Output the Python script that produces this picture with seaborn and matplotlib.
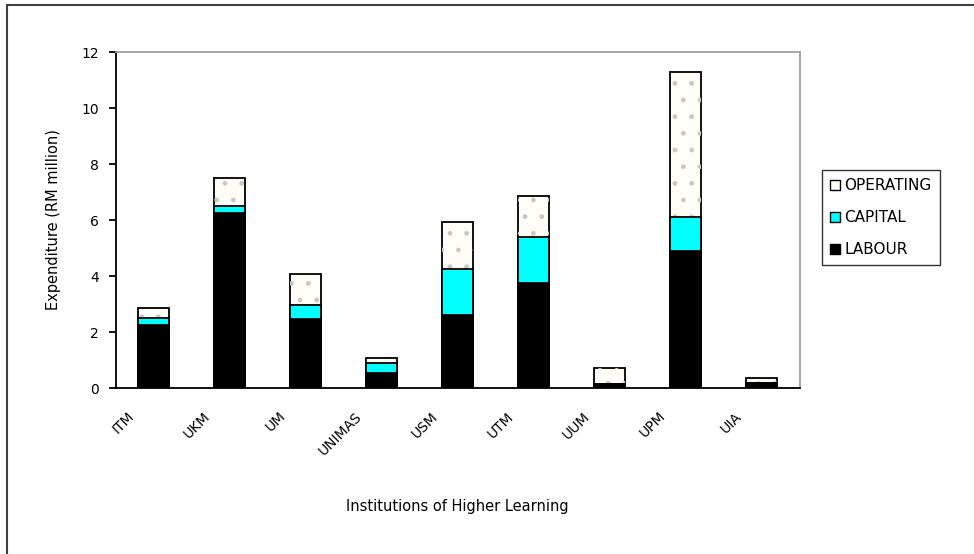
import numpy as np
import pandas as pd
import seaborn as sns
import matplotlib.pyplot as plt
from matplotlib.patches import Patch
from matplotlib.lines import Line2D
import matplotlib.transforms as mtransforms

# values (RM million)
institutions = ['ITM', 'UKM', 'UM', 'UNIMAS', 'USM', 'UTM', 'UUM', 'UPM', 'UIA']
labour = [2.25, 6.26, 2.46, 0.52, 2.60, 3.74, 0.14, 4.89, 0.17]
capital = [0.25, 0.25, 0.50, 0.38, 1.66, 1.66, 0.00, 1.23, 0.00]
operating = [0.37, 1.00, 1.10, 0.16, 1.66, 1.46, 0.56, 5.15, 0.18]

df = pd.DataFrame({'inst': institutions, 'LABOUR': labour,
                   'CAPITAL': capital, 'OPERATING': operating})
df['lab_cap'] = df['LABOUR'] + df['CAPITAL']
df['total'] = df['lab_cap'] + df['OPERATING']

sns.set_style('white')
plt.rcParams['font.family'] = ['DejaVu Sans']
plt.rcParams['hatch.linewidth'] = 1.0
for k in ['text.color', 'axes.labelcolor', 'xtick.color', 'ytick.color']:
    plt.rcParams[k] = 'black'

fig = plt.figure(figsize=(9.74, 5.54), dpi=100)
ax = fig.add_axes([0.119, 0.2996, 0.702, 0.6065])

ivory = '#fffdf5'
cyan = '#00ffff'
w = 0.41
# stacked bars drawn as overlaid cumulative layers
sns.barplot(data=df, x='inst', y='total', color=ivory, width=w,
            edgecolor='black', linewidth=1.3, saturation=1, ax=ax)
sns.barplot(data=df, x='inst', y='total', color=ivory, width=w,
            fill=False, linewidth=0, saturation=1, ax=ax)
for p in ax.patches[len(institutions):]:
    p.set_hatch('.')
    p.set_edgecolor('#c8c8c8')
    p.set_linewidth(0)
sns.barplot(data=df, x='inst', y='lab_cap', color=cyan, width=w,
            edgecolor='black', linewidth=1.3, saturation=1, ax=ax)
sns.barplot(data=df, x='inst', y='LABOUR', color='black', width=w,
            edgecolor='black', linewidth=1.3, saturation=1, ax=ax)

ax.set_ylim(0, 12)
ax.set_xlim(-0.5, len(institutions) - 0.5)
ax.set_yticks(range(0, 13, 2))
ax.tick_params(axis='y', direction='out', length=5, width=1.3,
               labelsize=10, pad=7, left=True)
ax.set_xticks(range(len(institutions)))
ax.set_xticklabels(institutions, rotation=45, ha='right', va='center',
                   rotation_mode='anchor', fontsize=10)
ax.tick_params(axis='x', length=0, pad=0)
ax.set_xticks(np.arange(0.5, len(institutions) - 0.5, 1), minor=True)
ax.tick_params(axis='x', which='minor', direction='in', length=5, width=1.3)
shift = mtransforms.ScaledTranslation(-22 / 100, -26 / 100, fig.dpi_scale_trans)
for lbl in ax.get_xticklabels():
    lbl.set_transform(lbl.get_transform() + shift)

for side in ['left', 'bottom']:
    ax.spines[side].set_color('black')
    ax.spines[side].set_linewidth(1.3)
for side in ['top', 'right']:
    ax.spines[side].set_color('#a0a0a0')
    ax.spines[side].set_linewidth(1.3)

ax.set_ylabel('Expenditure (RM million)', fontsize=10.5)
ax.yaxis.set_label_coords(-0.08, 0.5)
ax.set_xlabel('Institutions of Higher Learning', fontsize=10.5, va='center')
ax.xaxis.set_label_coords(0.5, -0.354)

handles = [Patch(facecolor=ivory, edgecolor='black', label='OPERATING'),
           Patch(facecolor=cyan, edgecolor='black', label='CAPITAL'),
           Patch(facecolor='black', edgecolor='black', label='LABOUR')]
leg = fig.legend(handles=handles, loc='upper left', bbox_to_anchor=(0.844, 0.693),
                 fontsize=11, frameon=True, fancybox=False, borderpad=0.55,
                 handlelength=0.6, handleheight=0.6, handletextpad=0.3,
                 labelspacing=1.1, borderaxespad=0)
leg.get_frame().set_edgecolor('black')
leg.get_frame().set_linewidth(1.0)

# outer chart frame (left and top edges visible)
fig.add_artist(Line2D([0.0075, 0.0075], [0, 0.991], color='#404040', lw=1.5,
                      transform=fig.transFigure))
fig.add_artist(Line2D([0.0075, 1], [0.991, 0.991], color='#404040', lw=1.5,
                      transform=fig.transFigure))

fig.savefig('out.png', dpi=100)
